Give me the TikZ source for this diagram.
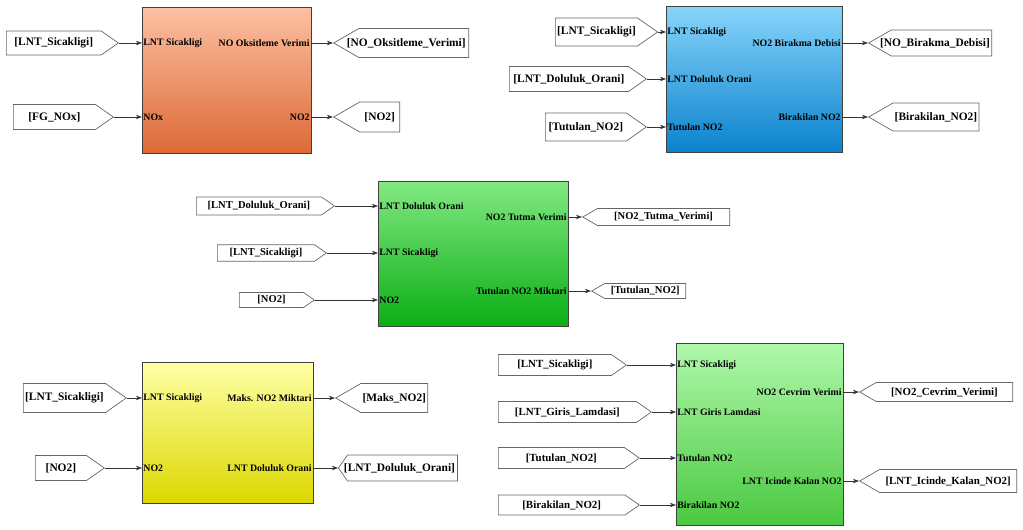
\documentclass[tikz,border=0pt]{standalone}
\usepackage{fontspec}
\setmainfont{Liberation Serif}
\usetikzlibrary{shapes.symbols,arrows.meta}

\definecolor{orangeTop}{RGB}{252,192,162}
\definecolor{orangeBot}{RGB}{220,105,55}
\definecolor{blueTop}{RGB}{135,212,250}
\definecolor{blueBot}{RGB}{10,130,205}
\definecolor{greenTop}{RGB}{130,232,130}
\definecolor{greenBot}{RGB}{10,175,20}
\definecolor{yellowTop}{RGB}{255,255,165}
\definecolor{yellowBot}{RGB}{220,215,0}
\definecolor{limeTop}{RGB}{175,248,170}
\definecolor{limeBot}{RGB}{75,200,65}

\begin{document}
\begin{tikzpicture}[x=0.02cm,y=-0.02cm,>={Stealth[length=3.5pt,width=2.6pt]}]
  \tikzstyle{block}=[draw=black!75,line width=0.6pt,anchor=north west,inner sep=0pt]
  \tikzstyle{port}=[inner sep=0.6pt,font=\fontsize{5.6}{6}\selectfont\bfseries]
  \tikzstyle{fromtag}=[draw=black!60,fill=white,signal,signal to=east,signal pointer angle=70,
    anchor=west,inner sep=1pt,font=\fontsize{6.5}{7}\selectfont\bfseries]
  \tikzstyle{gototag}=[draw=black!60,fill=white,signal,signal to=west,signal pointer angle=60,
    anchor=west,inner sep=1pt,font=\fontsize{6.5}{7}\selectfont\bfseries]
  \tikzstyle{wire}=[->,black!80,line width=0.4pt]
  \useasboundingbox (0,0) rectangle (1023,530);

  % block 1
  \node[block,top color=orangeTop,bottom color=orangeBot,minimum width=33.8mm,minimum height=29.2mm] (B_1) at (142,7) {};
  \node[port,anchor=west] (P_1a) at (142,43) {LNT Sicakligi};
  \node[port,anchor=west] (P_1b) at (142,117) {NOx};
  \node[port,anchor=east] (Q_1a) at (311,43) {NO Oksitleme Verimi};
  \node[port,anchor=east] (Q_1b) at (311,117) {NO2};
  \node[fromtag,minimum width=22.4mm,minimum height=4.8mm] (T_1a) at (6,43) {[LNT\_Sicakligi]};
  \node[fromtag,minimum width=20mm,minimum height=5mm] (T_1b) at (13,117) {[FG\_NOx]};
  \node[gototag,minimum width=27mm,minimum height=5.8mm] (G_1a) at (333,43) {\hspace*{-3mm}[NO\_Oksitleme\_Verimi]};
  \node[gototag,minimum width=13.2mm,minimum height=6mm] (G_1b) at (333,117) {[NO2]};
  \draw[wire] (T_1a.east) -- (P_1a.west);
  \draw[wire] (T_1b.east) -- (P_1b.west);
  \draw[wire] (Q_1a.east) -- (G_1a.west);
  \draw[wire] (Q_1b.east) -- (G_1b.west);

  % block 2
  \node[block,top color=blueTop,bottom color=blueBot,minimum width=35.2mm,minimum height=29.2mm] (B_2) at (666,6) {};
  \node[port,anchor=west] (P_2a) at (666,32) {LNT Sicakligi};
  \node[port,anchor=west] (P_2b) at (666,79) {LNT Doluluk Orani};
  \node[port,anchor=west] (P_2c) at (666,127) {Tutulan NO2};
  \node[port,anchor=east] (Q_2a) at (842,43) {NO2 Birakma Debisi};
  \node[port,anchor=east] (Q_2b) at (842,117) {Birakilan NO2};
  \node[fromtag,minimum width=18.8mm,minimum height=5.6mm] (T_2a) at (555,32) {[LNT\_Sicakligi]};
  \node[fromtag,minimum width=27.4mm,minimum height=5mm] (T_2b) at (509,79) {[LNT\_Doluluk\_Orani]};
  \node[fromtag,minimum width=20.2mm,minimum height=5.6mm] (T_2c) at (545,127) {[Tutulan\_NO2]};
  \node[gototag,minimum width=24.6mm,minimum height=5.2mm] (G_2a) at (868,43) {\hspace*{-2.6mm}[NO\_Birakma\_Debisi]};
  \node[gototag,minimum width=20.4mm,minimum height=5.6mm] (G_2b) at (868,117) {[Birakilan\_NO2]};
  \draw[wire] (T_2a.east) -- (P_2a.west);
  \draw[wire] (T_2b.east) -- (P_2b.west);
  \draw[wire] (T_2c.east) -- (P_2c.west);
  \draw[wire] (Q_2a.east) -- (G_2a.west);
  \draw[wire] (Q_2b.east) -- (G_2b.west);

  % block 3
  \node[block,top color=greenTop,bottom color=greenBot,minimum width=38mm,minimum height=29mm] (B_3) at (378,181) {};
  \node[port,anchor=west] (P_3a) at (378,206) {LNT Doluluk Orani};
  \node[port,anchor=west] (P_3b) at (378,253) {LNT Sicakligi};
  \node[port,anchor=west] (P_3c) at (378,300) {NO2};
  \node[port,anchor=east] (Q_3a) at (568,217) {NO2 Tutma Verimi};
  \node[port,anchor=east] (Q_3b) at (568,291) {Tutulan NO2 Miktari};
  \node[fromtag,minimum width=27.6mm,minimum height=3.6mm,font=\fontsize{6}{7}\selectfont\bfseries] (T_3a) at (196,206) {[LNT\_Doluluk\_Orani]};
  \node[fromtag,minimum width=21.8mm,minimum height=3.3mm,font=\fontsize{6}{7}\selectfont\bfseries] (T_3b) at (217,253) {[LNT\_Sicakligi]};
  \node[fromtag,minimum width=15mm,minimum height=3mm,font=\fontsize{6}{7}\selectfont\bfseries] (T_3c) at (239,300) {[NO2]};
  \node[gototag,minimum width=29.4mm,minimum height=3.4mm,font=\fontsize{6}{7}\selectfont\bfseries] (G_3a) at (582,217) {[NO2\_Tutma\_Verimi]};
  \node[gototag,minimum width=18.8mm,minimum height=3mm,font=\fontsize{6}{7}\selectfont\bfseries] (G_3b) at (591,291) {[Tutulan\_NO2]};
  \draw[wire] (T_3a.east) -- (P_3a.west);
  \draw[wire] (T_3b.east) -- (P_3b.west);
  \draw[wire] (T_3c.east) -- (P_3c.west);
  \draw[wire] (Q_3a.east) -- (G_3a.west);
  \draw[wire] (Q_3b.east) -- (G_3b.west);

  % block 4
  \node[block,top color=yellowTop,bottom color=yellowBot,minimum width=34.2mm,minimum height=28.2mm] (B_4) at (142,362) {};
  \node[port,anchor=west] (P_4a) at (142,398) {LNT Sicakligi};
  \node[port,anchor=west] (P_4b) at (142,468) {NO2};
  \node[port,anchor=east] (Q_4a) at (313,398) {Maks. NO2 Miktari};
  \node[port,anchor=east] (Q_4b) at (313,468) {LNT Doluluk Orani};
  \node[fromtag,minimum width=18.8mm,minimum height=5.8mm] (T_4a) at (23,398) {[LNT\_Sicakligi]};
  \node[fromtag,minimum width=13.8mm,minimum height=5mm] (T_4b) at (35,468) {[NO2]};
  \node[gototag,minimum width=17.8mm,minimum height=5.8mm] (G_4a) at (335,398) {[Maks\_NO2]};
  \node[gototag,minimum width=23.8mm,minimum height=5.2mm,signal pointer angle=110] (G_4b) at (338,468) {\hspace*{-1.2mm}[LNT\_Doluluk\_Orani]};
  \draw[wire] (T_4a.east) -- (P_4a.west);
  \draw[wire] (T_4b.east) -- (P_4b.west);
  \draw[wire] (Q_4a.east) -- (G_4a.west);
  \draw[wire] (Q_4b.east) -- (G_4b.west);

  % block 5
  \node[block,top color=limeTop,bottom color=limeBot,minimum width=33.4mm,minimum height=36.4mm] (B_5) at (676,343) {};
  \node[port,anchor=west] (P_5a) at (676,365) {LNT Sicakligi};
  \node[port,anchor=west] (P_5b) at (676,412) {LNT Giris Lamdasi};
  \node[port,anchor=west] (P_5c) at (676,458) {Tutulan NO2};
  \node[port,anchor=west] (P_5d) at (676,505) {Birakilan NO2};
  \node[port,anchor=east] (Q_5a) at (843,392) {NO2 Cevrim Verimi};
  \node[port,anchor=east] (Q_5b) at (843,481) {LNT Icinde Kalan NO2};
  \node[fromtag,minimum width=25.6mm,minimum height=4.2mm,font=\fontsize{6.2}{7}\selectfont\bfseries] (T_5a) at (498,365) {[LNT\_Sicakligi]};
  \node[fromtag,minimum width=30.6mm,minimum height=4.2mm,font=\fontsize{6.2}{7}\selectfont\bfseries] (T_5b) at (498,412) {[LNT\_Giris\_Lamdasi]};
  \node[fromtag,minimum width=28.2mm,minimum height=4.2mm,font=\fontsize{6.2}{7}\selectfont\bfseries] (T_5c) at (498,458) {[Tutulan\_NO2]};
  \node[fromtag,minimum width=28.2mm,minimum height=4mm,font=\fontsize{6.2}{7}\selectfont\bfseries] (T_5d) at (498,505) {[Birakilan\_NO2]};
  \node[gototag,minimum width=30.6mm,minimum height=3.8mm,font=\fontsize{6.2}{7}\selectfont\bfseries] (G_5a) at (859,392) {[NO2\_Cevrim\_Verimi]};
  \node[gototag,minimum width=31.4mm,minimum height=4.6mm,font=\fontsize{6.2}{7}\selectfont\bfseries] (G_5b) at (859,481) {[LNT\_Icinde\_Kalan\_NO2]};
  \draw[wire] (T_5a.east) -- (P_5a.west);
  \draw[wire] (T_5b.east) -- (P_5b.west);
  \draw[wire] (T_5c.east) -- (P_5c.west);
  \draw[wire] (T_5d.east) -- (P_5d.west);
  \draw[wire] (Q_5a.east) -- (G_5a.west);
  \draw[wire] (Q_5b.east) -- (G_5b.west);
\end{tikzpicture}
\end{document}
